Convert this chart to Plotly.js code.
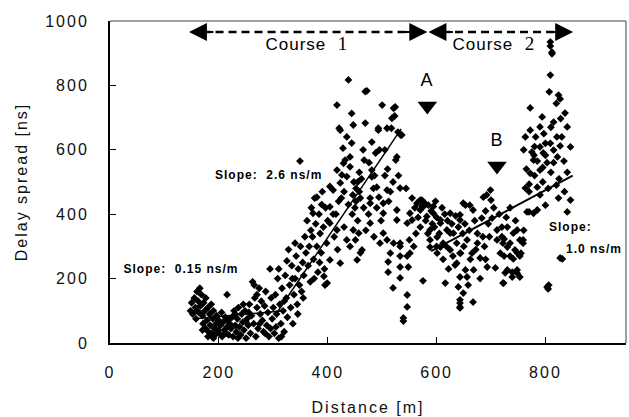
<!DOCTYPE html>
<html>
<head>
<meta charset="utf-8">
<script src="https://cdn.plot.ly/plotly-3.0.1.min.js"></script>
<style>
html,body{margin:0;padding:0;background:#fff;}
#chart{width:629px;height:417px;}
#chart .xtick text, #chart .ytick text, #chart .g-xtitle text, #chart .g-ytitle text {letter-spacing:2px;}
#chart .annotation-text {letter-spacing:1px;}
</style>
</head>
<body>
<div id="chart"></div>
<script>
const distance = [
 148,150,152,155,157,158,160,162,163,165, 166,168,170,171,172,174,175,176,178,180,
 181,183,184,186,187,189,190,192,193,195, 196,198,200,201,203,205,206,208,210,212,
 213,215,215,217,218,220,180,190,170,160,
 222,224,226,228,230,232,234,236,238,240, 242,244,246,248,250,252,254,256,258,260,
 262,264,266,268,270,272,274,276,278,280, 282,284,286,288,290,292,294,296,298,300,
 230,245,255,265,275,285,295,235,250,270,
 302,304,306,308,310,312,314,316,318,320, 322,324,326,328,330,332,334,336,338,340,
 342,344,346,348,349,350,352,354,356,358, 360,305,315,325,335,345,355,310,320,340,
 362,364,366,368,370,372,374,376,378,380, 382,384,386,388,390,392,394,396,398,400,
 385,375,395,369,389,373,380,393,399,404, 404,404,404,410,412,415,417,417,418,420,
 423,423,426,428,429,432,435,435,435,438, 441,441,441,444,444,447,447,450,451,452,
 454,455,457,458,460,463,465,467,469,469, 417,421,423,410,430,445,455,460,466,470,
 425,430,438,446,448,452,458,462,
 472,478,478,478,481,481,481,484,490,493, 493,494,495,496,500,502,502,502,509,509,
 509,511,511,515,517,518,520,521,521,523, 524,525,527,527,527,529,533,533,533,533,
 533,533,534,536,539,539,476,486,488,505, 510,515,505,490,498,512,520,530,485,475,
 546,546,546,546,548,551,551,555,564,570, 570,570,573,573,575,576,578,582,585,588,
 588,588,594,594,601,601,544,550,558,562, 580,590,596,598,600,592,584,560,566,555,
 607,607,607,612,616,619,625,625,625,631, 634,637,637,640,643,643,643,643,643,643,
 643,643,644,649,649,653,653,656,656,661, 665,667,667,668,675,680,683,686,692,693,
 699,610,615,620,628,635,640,648,652,660, 670,675,685,690,695,700,605,618,630,650,
 662,672,688,697,612,622,658,680,690,600,
 702,708,711,711,717,720,722,722,723,724, 724,726,730,730,730,735,735,739,739,741,
 741,744,748,748,748,748,753,753,753,755, 759,759,763,766,770,770,772,778,778,785,
 785,790,796,705,715,720,728,735,745,760,
 809,809,812,812,809,807,824,827,820,772, 794,836,828,815,810,790,840,772,763,782,
 797,821,830,790,809,827,846,815,775,779, 800,822,834,785,803,765,780,795,810,825,
 840,770,790,805,820,835,800,824,840,846, 803,806,805,831,827,760,780,800,815,795
];
const delaySpread = [
 100,125,90,140,110,75,160,130,95,170, 115,150,85,60,125,100,45,140,70,110,
 35,90,55,120,30,75,100,45,25,60, 85,40,70,30,55,95,20,65,40,80,
 30,150,50,70,25,60,20,15,40,100,
 45,80,20,100,55,35,75,110,50,25, 90,65,40,100,15,75,55,120,30,85,
 190,60,140,20,110,45,170,90,130,70, 35,115,160,55,95,20,230,140,75,110,
 90,120,95,180,60,30,45,15,65,150,
 30,150,90,200,15,120,60,170,100,35, 210,140,80,290,180,110,240,60,150,200,
 270,120,230,180,565,300,160,250,210,330, 280,50,20,255,200,90,140,230,130,310,
 380,240,300,190,420,330,260,450,370,300, 220,400,340,280,470,360,230,420,310,380,
 250,200,180,350,430,403,453,207,186,423, 372,258,486,475,330,400,351,537,290,440,
 497,248,522,605,558,568,517,320,640,817, 578,300,547,713,621,677,351,420,320,480,
 258,380,341,530,450,289,600,568,683,781, 739,667,661,400,360,400,500,280,420,350,
 450,470,430,460,500,440,470,510,
 783,372,434,450,624,537,516,480,484,661, 667,453,600,310,739,403,341,434,667,475,
 320,252,220,279,667,698,171,729,310,705, 733,568,578,382,413,655,481,310,300,270,
 236,202,646,646,78,68,560,520,590,520, 540,470,600,420,380,440,500,520,330,400,
 372,270,149,112,236,403,279,382,434,413, 360,444,425,444,193,424,435,393,428,351,
 298,320,403,424,329,279,480,320,300,340, 380,410,360,440,390,370,340,420,390,450,
 382,372,298,310,186,351,403,341,289,341, 242,310,248,174,382,398,279,205,134,124,
 112,109,279,434,155,428,227,320,205,428, 279,413,127,227,310,264,388,453,460,236,
 475,420,400,380,370,395,360,340,370,350, 380,340,330,410,370,444,340,300,270,300,
 260,290,300,330,260,230,180,200,260,300,
 388,233,351,320,279,330,186,310,186,323, 270,218,360,298,227,310,270,220,205,341,
 261,289,351,280,227,217,320,270,205,279, 320,310,481,407,493,407,527,403,568,484,
 413,537,590,420,400,360,390,420,380,350,
 935,922,903,898,832,780,770,758,744,730, 702,714,697,686,670,671,671,661,640,640,
 650,640,640,609,620,612,609,599,593,583, 583,578,565,565,560,540,520,500,530,510,
 530,470,460,480,490,470,428,450,407,444, 174,180,168,261,264,600,610,620,560,545
];
// Regression lines (end points of each fitted segment)
const fitCourse1aX = [155, 320];
const fitCourse1aY = [75, 100];
const fitCourse1bX = [305, 535];
const fitCourse1bY = [90, 665];
const fitCourse2X = [590, 850];
const fitCourse2Y = [285, 520];
const slopeLabels = ['Slope:  0.15 ns/m', 'Slope:  2.6 ns/m', 'Slope:', '1.0 ns/m'];
const slopeX = [130, 292, 846, 889];
const slopeY = [230, 522, 360, 292];
const pointLabels = ['A', 'B'];
const pointX = [583, 711];
const pointY = [736, 550];
const courses = ['Course', 'Course'];
const courseNums = ['1', '2'];
const courseStart = [145, 585];
const courseEnd = [583, 851];
const courseTextX = [362, 706];
const arrowY = 966;
const courseTextY = 929;

const black = '#000';
const traces = [
  {x: distance, y: delaySpread, type: 'scatter', mode: 'markers',
   marker: {symbol: 'diamond', size: 6, color: black}},
  {x: fitCourse1aX, y: fitCourse1aY, type: 'scatter', mode: 'lines', line: {color: black, width: 1.5}},
  {x: fitCourse1bX, y: fitCourse1bY, type: 'scatter', mode: 'lines', line: {color: black, width: 1.5}},
  {x: fitCourse2X, y: fitCourse2Y, type: 'scatter', mode: 'lines', line: {color: black, width: 2}},
  {x: pointX, y: pointY, type: 'scatter', mode: 'markers',
   marker: {symbol: 'triangle-down', size: 17, color: black}}
];

const annotations = [];
const shapes = [];
for (let i = 0; i < 2; i++) {
  shapes.push({type: 'line', xref: 'x', yref: 'y', x0: courseStart[i] + 25, x1: courseEnd[i] - 25,
    y0: arrowY, y1: arrowY, line: {color: black, width: 2.5, dash: '8px,5px'}});
  annotations.push({x: courseStart[i], y: arrowY, ax: 26, ay: 0, xref: 'x', yref: 'y',
    showarrow: true, arrowhead: 2, arrowsize: 1.8, arrowwidth: 2, arrowcolor: black, text: ''});
  annotations.push({x: courseEnd[i], y: arrowY, ax: -26, ay: 0, xref: 'x', yref: 'y',
    showarrow: true, arrowhead: 2, arrowsize: 1.8, arrowwidth: 2, arrowcolor: black, text: ''});
  annotations.push({x: courseTextX[i], y: courseTextY, xref: 'x', yref: 'y', showarrow: false,
    text: courses[i] + '  <span style="font-family:\'Liberation Serif\',serif;font-size:19px">' + courseNums[i] + '</span>',
    font: {family: 'Liberation Sans, Arial', size: 17, color: black}});
  annotations.push({x: pointX[i], y: pointY[i] + 80, xref: 'x', yref: 'y', showarrow: false,
    text: pointLabels[i], font: {family: 'Liberation Sans, Arial', size: 18, color: black}});
}
for (let i = 0; i < slopeLabels.length; i++) {
  annotations.push({x: slopeX[i], y: slopeY[i], xref: 'x', yref: 'y', showarrow: false,
    text: '<b>' + slopeLabels[i] + '</b>', font: {family: 'Liberation Sans, Arial', size: 12, color: black}});
}
// grey top/right frame
shapes.push({type: 'line', xref: 'paper', yref: 'paper', x0: 0, x1: 1, y0: 1, y1: 1, line: {color: '#808080', width: 1.5}});
shapes.push({type: 'line', xref: 'paper', yref: 'paper', x0: 1, x1: 1, y0: 0, y1: 1, line: {color: '#808080', width: 1.5}});

const axisFont = {family: 'Liberation Sans, Arial', size: 16, color: '#111'};
const layout = {
  width: 629, height: 417,
  margin: {l: 110, r: 3, t: 21, b: 74},
  paper_bgcolor: '#fff', plot_bgcolor: '#fff',
  showlegend: false,
  xaxis: {range: [0, 948], tickvals: [0, 200, 400, 600, 800], ticks: 'inside', ticklen: 6,
    tickcolor: black, showgrid: false, zeroline: false, showline: true, linecolor: black, linewidth: 2,
    tickfont: axisFont, ticklabelstandoff: 14,
    title: {text: 'Distance [m]', font: axisFont, standoff: 22}, automargin: false},
  yaxis: {range: [0, 1000], tickvals: [0, 200, 400, 600, 800, 1000], ticks: 'inside', ticklen: 6,
    tickcolor: black, showgrid: false, zeroline: false, showline: true, linecolor: black, linewidth: 2,
    tickfont: axisFont, ticklabelstandoff: 16,
    title: {text: 'Delay spread [ns]', font: axisFont, standoff: 22}, automargin: false},
  shapes: shapes,
  annotations: annotations
};
Plotly.newPlot('chart', traces, layout, {displayModeBar: false, staticPlot: true});
</script>
</body>
</html>
